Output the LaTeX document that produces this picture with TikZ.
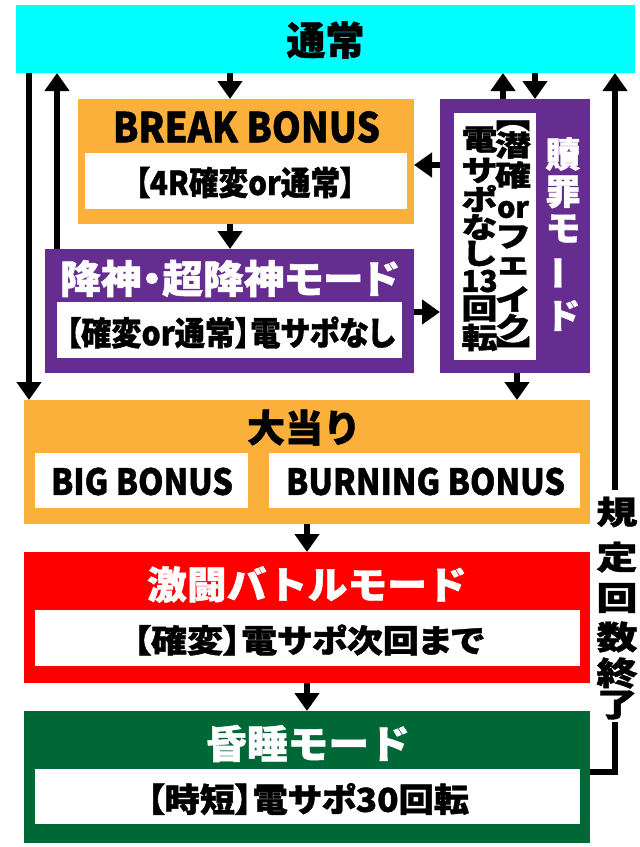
\documentclass[tikz,border=0pt]{standalone}
\usepackage{fontspec}
\usepackage{graphicx}
\usetikzlibrary{arrows.meta,fit}
\newfontfamily\jp{Noto Sans CJK JP}[UprightFont=* Bold, FakeBold=1.2]
\newfontfamily\jpp{Noto Sans CJK JP}[UprightFont=* Bold, FakeBold=1.2, RawFeature=+palt]
\definecolor{cy}{HTML}{00FFFF}
\definecolor{org}{HTML}{FBB03B}
\definecolor{pur}{HTML}{662D91}
\definecolor{rd}{HTML}{FF0000}
\definecolor{grn}{HTML}{006837}
\newcommand\fw[3]{\resizebox{#1pt}{\height}{\fontsize{#2}{#2}\selectfont\bfseries #3}}
\newcommand\fs[2]{\fontsize{#1}{#1}\selectfont\bfseries #2}
\begin{document}
\begin{tikzpicture}[x=1pt,y=-1pt,
  box/.style={inner sep=0pt, outer sep=0pt, draw=none},
  txt/.style={inner sep=0pt, outer sep=0pt, anchor=center, font=\jp},
  txtp/.style={inner sep=0pt, outer sep=0pt, anchor=center, font=\jpp},
  arr/.style={line width=6pt, -{Triangle[width=24pt,length=18pt]}},
  ln/.style={line width=6pt}]
\useasboundingbox (0,0) rectangle (640,847);
% boxes
\node[box, fill=cy, fit={(16,5) (635,73)}] (tsujo) {};
\node[box, fill=org, fit={(78,99) (414,224)}] (brk) {};
\node[box, fill=white, fit={(85,153) (407,209)}] (brkw) {};
\node[box, fill=pur, fit={(45,249) (414,373)}] (kojin) {};
\node[box, fill=white, fit={(57,302) (402,358)}] (kojinw) {};
\node[box, fill=pur, fit={(440,99) (590,373)}] (shok) {};
\node[box, fill=white, fit={(454,113) (536,360)}] (shokw) {};
\node[box, fill=org, fit={(24,400) (590,524)}] (oo) {};
\node[box, fill=white, fit={(35,453) (248,508)}] (big) {};
\node[box, fill=white, fit={(269,453) (580,508)}] (burn) {};
\node[box, fill=rd, fit={(24,552) (590,683)}] (geki) {};
\node[box, fill=white, fit={(35,610) (580,666)}] (gekiw) {};
\node[box, fill=grn, fit={(24,711) (590,843)}] (kon) {};
\node[box, fill=white, fit={(35,769) (580,824)}] (konw) {};
% texts
\node[txt] (t1) at (325.5,40) {\fs{39}{通常}};
\node[txt] (t2) at (246.5,127) {\fw{267}{41}{BREAK BONUS}};
\node[txtp] (t3) at (245,182.5) {\fw{220}{33}{【4R確変or通常】}};
\node[txtp, text=white] (t4) at (229.5,278.5) {\fw{339}{39}{降神・超降神モード}};
\node[txtp] (t5) at (230.5,332.5) {\fw{329}{33}{【確変or通常】電サポなし}};
\node[txt] (t6) at (304,427.5) {\fw{114}{38}{大当り}};
\node[txt] (t7) at (142,481.5) {\fw{182}{36}{BIG BONUS}};
\node[txt] (t8) at (425.5,481.5) {\fw{279}{36}{BURNING BONUS}};
\node[txt, text=white] (t9) at (307,584.5) {\fw{320}{38}{激闘バトルモード}};
\node[txtp] (t10) at (308.5,640) {\fw{351}{32}{【確変】電サポ次回まで}};
\node[txt, text=white] (t11) at (308,743.5) {\fw{204}{39}{昏睡モード}};
\node[txtp] (t12) at (308,799) {\fw{322}{33}{【時短】電サポ30回転}};
% vertical: 贖罪モード
\foreach \c/\y [count=\i] in {贖/154, 罪/192, モ/228.5, ド/315.5}
  \node[txt, text=white] (s\i) at (563,\y) {\fs{35}{\c}};
\node[txt, text=white] (s5) at (563,273) {\rotatebox[origin=c]{90}{\fs{35}{ー}}};
% right column
\node[txtp] (rb1) at (513,125) {\rotatebox[origin=c]{-90}{\fs{34}{【}}};
\foreach \c/\y [count=\i] in {潜/145, 確/175, フ/237, ェ/266, イ/299, ク/327}
  \node[txt] (r\i) at (513,\y) {\scalebox{1}[0.8]{\fs{36}{\c}}};
\node[txt] (ror) at (513,209.5) {\fs{29}{or}};
\node[txtp] (rb2) at (513,347) {\rotatebox[origin=c]{-90}{\fs{34}{】}}};
% left column
\foreach \c/\y [count=\i] in {電/139.5, サ/170.5, ポ/198.5, な/227, し/253.5, 回/308.5, 転/337.5}
  \node[txt] (l\i) at (479.5,\y) {\scalebox{1}[0.8]{\fs{36}{\c}}};
\node[txt] (l13) at (479.5,281) {\fs{30}{13}};
% 規定回数終了
\foreach \c/\y [count=\i] in {規/512, 定/557, 回/598, 数/637, 終/673, 了/705}
  \node[txt] (k\i) at (617,\y) {\scalebox{1}[0.79]{\fs{41}{\c}}};
% coordinates for connector lines
\coordinate (xA) at (29,0);
\coordinate (xB) at (57,0);
\coordinate (xC) at (230,0);
\coordinate (xG) at (503,0);
\coordinate (xH) at (535,0);
\coordinate (xI) at (517,0);
\coordinate (xJ) at (307,0);
\coordinate (yE) at (0,165);
\coordinate (yF) at (0,312);
\coordinate (yR) at (0,772);
\coordinate (kt) at (615,490);
\coordinate (kb) at (615,722);
% connectors
\draw[arr] (tsujo.south -| xA) -- (oo.north -| xA);
\draw[arr] (kojin.north -| xB) -- (tsujo.south -| xB);
\draw[arr] (tsujo.south -| xC) -- (brk.north -| xC);
\draw[arr] (brk.south -| xC) -- (kojin.north -| xC);
\draw[arr] (shok.west |- yE) -- (brk.east |- yE);
\draw[arr] (kojin.east |- yF) -- (shok.west |- yF);
\draw[arr] (shok.north -| xG) -- (tsujo.south -| xG);
\draw[arr] (tsujo.south -| xH) -- (shok.north -| xH);
\draw[arr] (shok.south -| xI) -- (oo.north -| xI);
\draw[arr] (oo.south -| xJ) -- (geki.north -| xJ);
\draw[arr] (geki.south -| xJ) -- (kon.north -| xJ);
\draw[ln] (kon.east |- yR) -| (kb);
\draw[arr] (kt) -- (tsujo.south -| kt);
\end{tikzpicture}
\end{document}
